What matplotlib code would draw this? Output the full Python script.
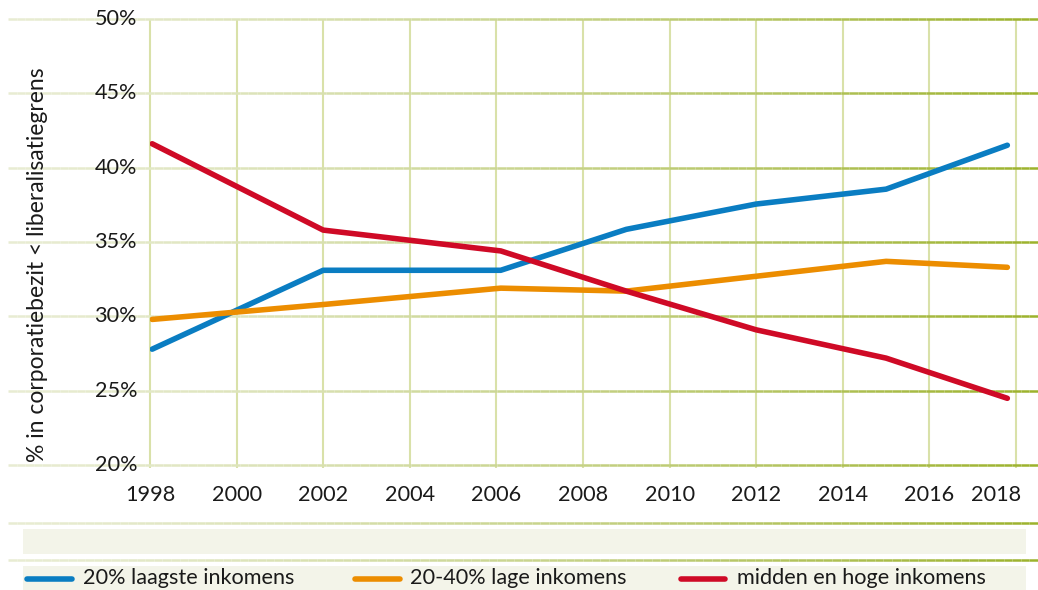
import numpy as np
import matplotlib
matplotlib.use("Agg")
import matplotlib.pyplot as plt
from matplotlib.collections import LineCollection
from matplotlib.colors import to_rgb
from matplotlib.patches import Rectangle

plt.rcParams['font.family'] = ['Lato', 'DejaVu Sans']

# data (survey years as placed on the chart)
years = [1998.05, 2002, 2006.1, 2009, 2012, 2015, 2017.8]
laagste = [27.8, 33.1, 33.1, 35.85, 37.55, 38.55, 41.5]
lage = [29.8, 30.8, 31.9, 31.7, 32.7, 33.7, 33.3]
midden_hoog = [41.6, 35.8, 34.4, 31.7, 29.1, 27.2, 24.5]

series_names = ['20% laagste inkomens', '20-40% lage inkomens', 'midden en hoge inkomens']
series_colors = ['#0a7dc2', '#ec8d00', '#cf0a26']

xticks = list(range(1998, 2019, 2))
yticks = [20, 25, 30, 35, 40, 45, 50]

W, H = 1038, 590
GRID_LIGHT = '#e8ecd2'
GRID_DARK = '#9cb22c'
VGRID = '#d9e1a9'
TXT = '#1a1a1a'
FS = 15.6


def fx(px):
    return px / W


def fy(py):
    return 1 - py / H


def gradient_line(target, x0, x1, y, transform, lw=1.8, n=120):
    xs = np.linspace(x0, x1, n + 1)
    segs = [[(xs[i], y), (xs[i + 1], y)] for i in range(n)]
    c0, c1 = np.array(to_rgb(GRID_LIGHT)), np.array(to_rgb(GRID_DARK))
    t = np.linspace(0, 1, n) ** 1.3
    cols = [tuple(c0 + (c1 - c0) * ti) for ti in t]
    lc = LineCollection(segs, colors=cols, linewidths=lw, transform=transform,
                        clip_on=False, zorder=1, capstyle='butt')
    target.add_artist(lc)


fig = plt.figure(figsize=(W / 100, H / 100), dpi=100)

left_px, right_px, top_px, bottom_px = 150, 1038, 18.7, 465.3
ax = fig.add_axes([fx(left_px), fy(bottom_px), fx(right_px - left_px), (bottom_px - top_px) / H])
px_per_year = (1016 - 150) / 20
ax.set_xlim(1998, 2018 + (right_px - 1016) / px_per_year)
ax.set_ylim(20, 50)
ax.axis('off')

# vertical grid
ax.vlines(xticks, 20 - 0.2, 50, colors=VGRID, linewidth=1.5, zorder=1, clip_on=False)

# horizontal gradient grid, reaching out to the left edge
x_start = (8 - left_px) / (right_px - left_px)
for yv in yticks:
    gradient_line(ax, x_start, 1.0, yv, ax.get_yaxis_transform())

for vals, col in zip([laagste, lage, midden_hoog], series_colors):
    ax.plot(years, vals, color=col, linewidth=4, solid_capstyle='round',
            solid_joinstyle='round', zorder=3)

# tick labels
lab_x = (137 - left_px) / (right_px - left_px)
for yv in yticks:
    ax.text(lab_x, yv, f'{yv}%', transform=ax.get_yaxis_transform(),
            ha='right', va='center', fontsize=FS, color=TXT)

lab_y = -(495 - bottom_px) / (bottom_px - top_px)
for xv in xticks:
    pos = xv - 0.45 if xv == 2018 else xv
    ax.text(pos, lab_y, str(xv), transform=ax.get_xaxis_transform(),
            ha='center', va='center', fontsize=FS, color=TXT)

fig.text(fx(38), fy(265), '% in corporatiebezit < liberalisatiegrens', rotation=90,
         ha='center', va='center', fontsize=16.5, color=TXT)

# lower panel: separators, empty band, legend band
gradient_line(fig, fx(8), 1.0, fy(522.5), fig.transFigure)
gradient_line(fig, fx(8), 1.0, fy(559.5), fig.transFigure)
fig.add_artist(Rectangle((fx(22.7), fy(553.7)), fx(1026 - 22.7), (553.7 - 529) / H,
                         transform=fig.transFigure, facecolor='#f3f4e9', edgecolor='none'))
fig.add_artist(Rectangle((fx(22.7), fy(590)), fx(1026 - 22.7), (590 - 565.7) / H,
                         transform=fig.transFigure, facecolor='#f3f4e9', edgecolor='none'))

leg_lines = [(27, 72, 83), (355, 400, 410), (681, 725, 737)]
for (l0, l1, tx), name, col in zip(leg_lines, series_names, series_colors):
    fig.add_artist(plt.Line2D([fx(l0), fx(l1)], [fy(579), fy(579)], color=col,
                              linewidth=4, solid_capstyle='round', transform=fig.transFigure))
    fig.text(fx(tx), fy(578), name, ha='left', va='center', fontsize=FS, color=TXT)

fig.savefig('out.png', dpi=100)
